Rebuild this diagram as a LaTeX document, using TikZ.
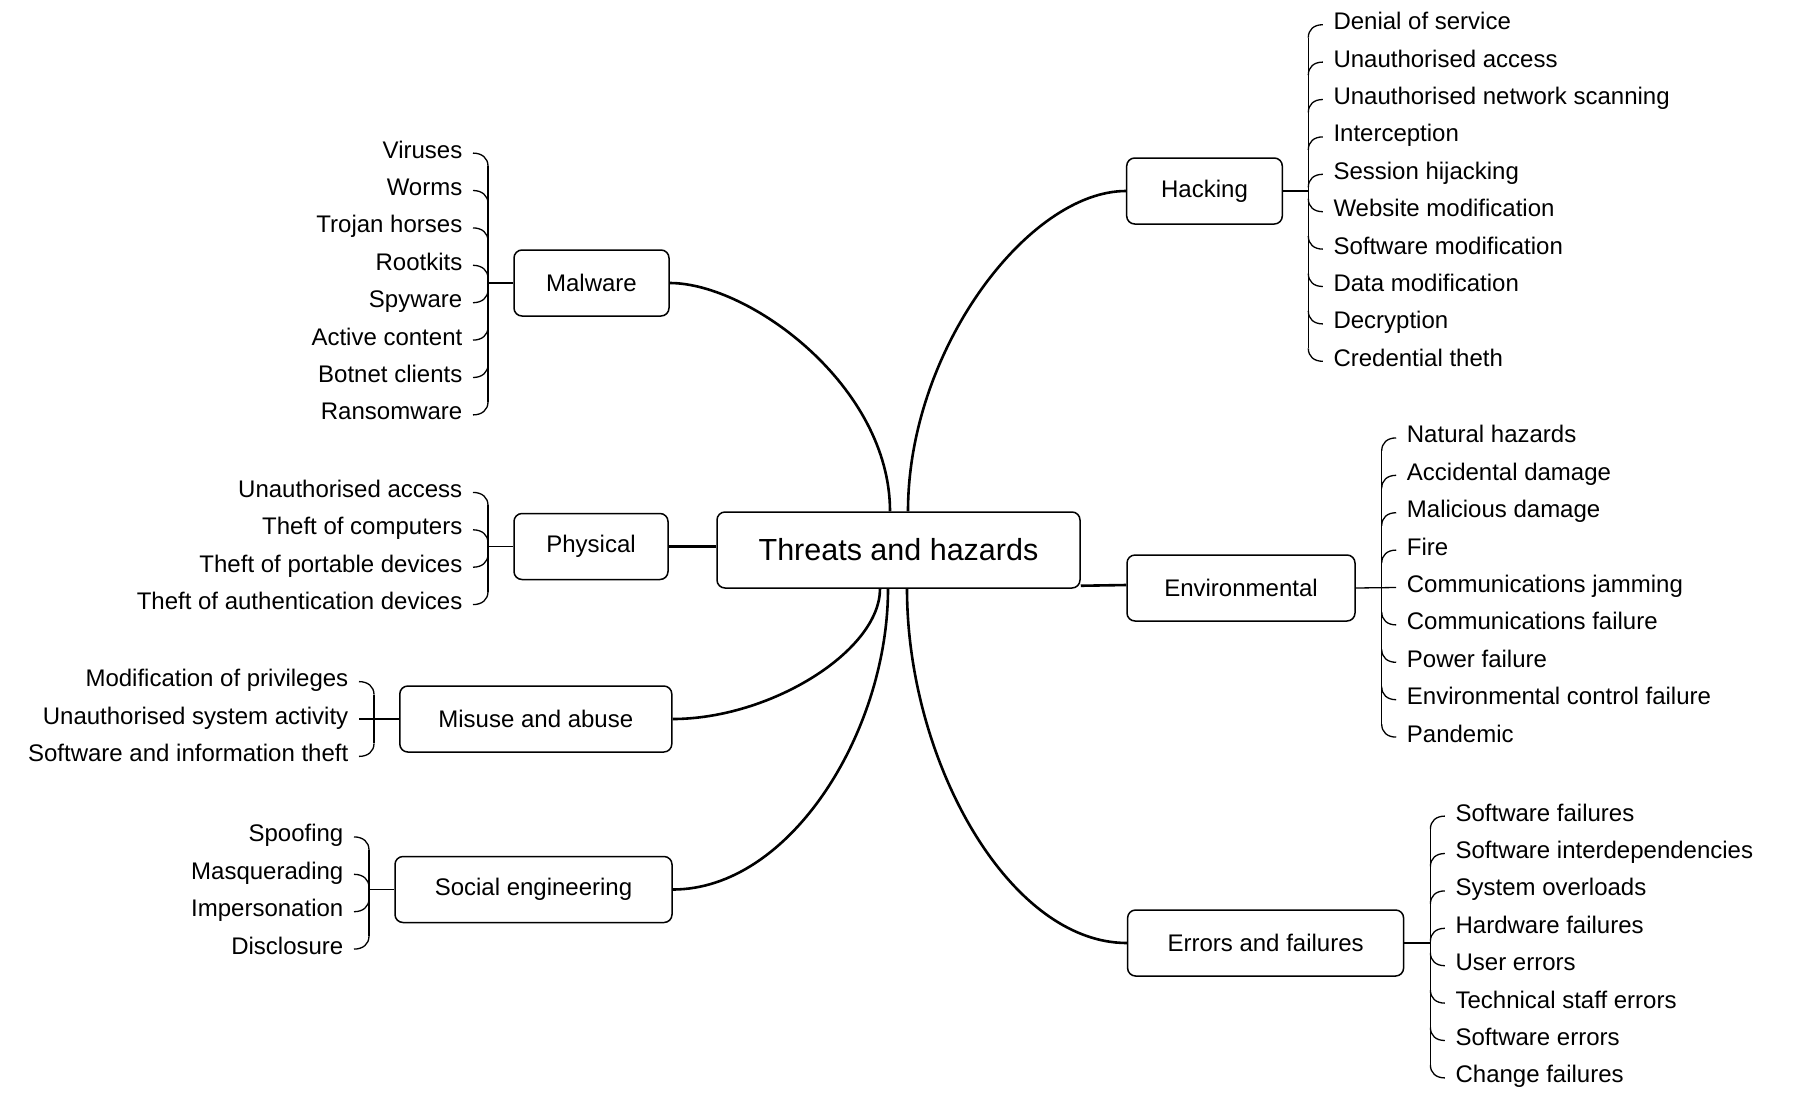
\documentclass[tikz,border=0pt]{standalone}
\usepackage{fontspec}
\setmainfont{Liberation Sans}
\usetikzlibrary{calc}
\begin{document}
\begin{tikzpicture}[x=1pt,y=-1pt,
  lbl/.style={font=\fontsize{24}{28}\selectfont},
  topic/.style={draw, line width=1.5pt, rounded corners=8pt, minimum height=66pt, inner sep=0pt, lbl},
  leafL/.style={anchor=east, inner xsep=10.5pt, inner ysep=0pt, text height=16.8pt, text depth=6.7pt, lbl},
  leafR/.style={anchor=west, inner xsep=10.5pt, inner ysep=0pt, text height=16.8pt, text depth=6.7pt, lbl},
  brk/.style={line width=1.3pt},
  mainline/.style={line width=2.6pt},
]
\useasboundingbox (0,0) rectangle (1800,1096);

% ---------- topic nodes ----------
\node[topic, font=\fontsize{30.5}{34}\selectfont, minimum width=363pt, minimum height=76pt] (central) at (898.5,550) {Threats and hazards};
\node[topic, minimum width=155pt] (malware) at (591.5,283) {Malware};
\node[topic, minimum width=154pt] (physical) at (591,546.5) {Physical};
\node[topic, minimum width=272pt] (misuse) at (535.8,719) {Misuse and abuse};
\node[topic, minimum width=277pt] (social) at (533.5,889.5) {Social engineering};
\node[topic, minimum width=155.6pt] (hacking) at (1204.5,191) {Hacking};
\node[topic, minimum width=228pt] (envir) at (1241,588) {Environmental};
\node[topic, minimum width=276pt] (errors) at (1265.6,943) {Errors and failures};

% ---------- main connectors ----------
\draw[mainline] (malware.east) .. controls +(80,0) and +(0,-125) .. ([xshift=-8.5pt]central.north);
\draw[mainline] (hacking.west) .. controls +(-97,0) and +(0,-162) .. ([xshift=9.5pt]central.north);
\draw[mainline] (misuse.east) .. controls +(98,0) and +(0,62) .. ([xshift=-18.5pt]central.south);
\draw[mainline] (social.east) .. controls +(118,0) and +(0,142) .. ([xshift=-10.5pt]central.south);
\draw[mainline] (errors.west) .. controls +(-118,0) and +(0,172) .. ([xshift=8.5pt]central.south);
\draw[mainline] (physical.east) -- (physical.east -| central.west);
\draw[mainline] ([yshift=3pt]central.south east) -- ([yshift=3pt]envir.west);

% ---------- bar coordinates ----------
\coordinate (mwbar) at (488,283);
\coordinate (phbar) at (488,546.5);
\coordinate (mibar) at (374,719);
\coordinate (sobar) at (369,889.5);
\coordinate (habar) at (1308.3,191);
\coordinate (enbar) at (1381.7,587.5);
\coordinate (erbar) at (1430.4,943);

% ---------- Malware ----------
\foreach \t [count=\i] in {Viruses,Worms,Trojan horses,Rootkits,Spyware,Active content,Botnet clients,Ransomware}
  \node[leafL] (mw\i) at (473,{284+(\i-4.5)*37.4}) {\t};
\foreach \i in {1,...,4}
  \draw[brk] (mw\i.east) .. controls +(9,0) and +(0,-8) .. ($(mw\i.east -| mwbar)+(0,13)$);
\foreach \i in {5,...,8}
  \draw[brk] (mw\i.east) .. controls +(9,0) and +(0,8) .. ($(mw\i.east -| mwbar)+(0,-13)$);
\draw[brk] ($(mw1.east -| mwbar)+(0,13)$) -- ($(mw8.east -| mwbar)+(0,-13)$);
\draw[brk] (malware.west) -- (malware.west -| mwbar);

% ---------- Physical ----------
\foreach \t [count=\i] in {Unauthorised access,Theft of computers,Theft of portable devices,Theft of authentication devices}
  \node[leafL] (ph\i) at (473,{548.5+(\i-2.5)*37.4}) {\t};
\foreach \i in {1,2}
  \draw[brk] (ph\i.east) .. controls +(9,0) and +(0,-8) .. ($(ph\i.east -| phbar)+(0,13)$);
\foreach \i in {3,4}
  \draw[brk] (ph\i.east) .. controls +(9,0) and +(0,8) .. ($(ph\i.east -| phbar)+(0,-13)$);
\draw[brk] ($(ph1.east -| phbar)+(0,13)$) -- ($(ph4.east -| phbar)+(0,-13)$);
\draw[brk] (physical.west) -- (physical.west -| phbar);

% ---------- Misuse and abuse ----------
\foreach \t [count=\i] in {Modification of privileges,Unauthorised system activity,Software and information theft}
  \node[leafL] (mi\i) at (359,{719+(\i-2)*37.4}) {\t};
\draw[brk] (mi1.east) .. controls +(9,0) and +(0,-8) .. ($(mi1.east -| mibar)+(0,13)$);
\draw[brk] (mi3.east) .. controls +(9,0) and +(0,8) .. ($(mi3.east -| mibar)+(0,-13)$);
\draw[brk] ($(mi1.east -| mibar)+(0,13)$) -- ($(mi3.east -| mibar)+(0,-13)$);
\draw[brk] (mi2.east) -- (misuse.west);

% ---------- Social engineering ----------
\foreach \t [count=\i] in {Spoofing,Masquerading,Impersonation,Disclosure}
  \node[leafL] (so\i) at (354,{893+(\i-2.5)*37.4}) {\t};
\foreach \i in {1,2}
  \draw[brk] (so\i.east) .. controls +(9,0) and +(0,-8) .. ($(so\i.east -| sobar)+(0,13)$);
\foreach \i in {3,4}
  \draw[brk] (so\i.east) .. controls +(9,0) and +(0,8) .. ($(so\i.east -| sobar)+(0,-13)$);
\draw[brk] ($(so1.east -| sobar)+(0,13)$) -- ($(so4.east -| sobar)+(0,-13)$);
\draw[brk] (social.west) -- (social.west -| sobar);

% ---------- Hacking ----------
\foreach \t [count=\i] in {Denial of service,Unauthorised access,Unauthorised network scanning,Interception,Session hijacking,Website modification,Software modification,Data modification,Decryption,Credential theth}
  \node[leafR] (ha\i) at (1322.8,{193+(\i-5.5)*37.4}) {\t};
\foreach \i in {1,...,5}
  \draw[brk] (ha\i.west) .. controls +(-9,0) and +(0,-8) .. ($(ha\i.west -| habar)+(0,13)$);
\foreach \i in {6,...,10}
  \draw[brk] (ha\i.west) .. controls +(-9,0) and +(0,8) .. ($(ha\i.west -| habar)+(0,-13)$);
\draw[brk] ($(ha1.west -| habar)+(0,13)$) -- ($(ha10.west -| habar)+(0,-13)$);
\draw[brk] (hacking.east) -- (hacking.east -| habar);

% ---------- Environmental ----------
\foreach \t [count=\i] in {Natural hazards,Accidental damage,Malicious damage,Fire,Communications jamming,Communications failure,Power failure,Environmental control failure,Pandemic}
  \node[leafR] (en\i) at (1396.2,{587.5+(\i-5)*37.4}) {\t};
\foreach \i in {1,...,4}
  \draw[brk] (en\i.west) .. controls +(-9,0) and +(0,-8) .. ($(en\i.west -| enbar)+(0,13)$);
\foreach \i in {6,...,9}
  \draw[brk] (en\i.west) .. controls +(-9,0) and +(0,8) .. ($(en\i.west -| enbar)+(0,-13)$);
\draw[brk] ($(en1.west -| enbar)+(0,13)$) -- ($(en9.west -| enbar)+(0,-13)$);
\draw[brk] (envir.east) -- (en5.west);

% ---------- Errors and failures ----------
\foreach \t [count=\i] in {Software failures,Software interdependencies,System overloads,Hardware failures,User errors,Technical staff errors,Software errors,Change failures}
  \node[leafR] (er\i) at (1444.9,{947+(\i-4.5)*37.4}) {\t};
\foreach \i in {1,...,4}
  \draw[brk] (er\i.west) .. controls +(-9,0) and +(0,-8) .. ($(er\i.west -| erbar)+(0,13)$);
\foreach \i in {5,...,8}
  \draw[brk] (er\i.west) .. controls +(-9,0) and +(0,8) .. ($(er\i.west -| erbar)+(0,-13)$);
\draw[brk] ($(er1.west -| erbar)+(0,13)$) -- ($(er8.west -| erbar)+(0,-13)$);
\draw[brk] (errors.east) -- (errors.east -| erbar);
\end{tikzpicture}
\end{document}
